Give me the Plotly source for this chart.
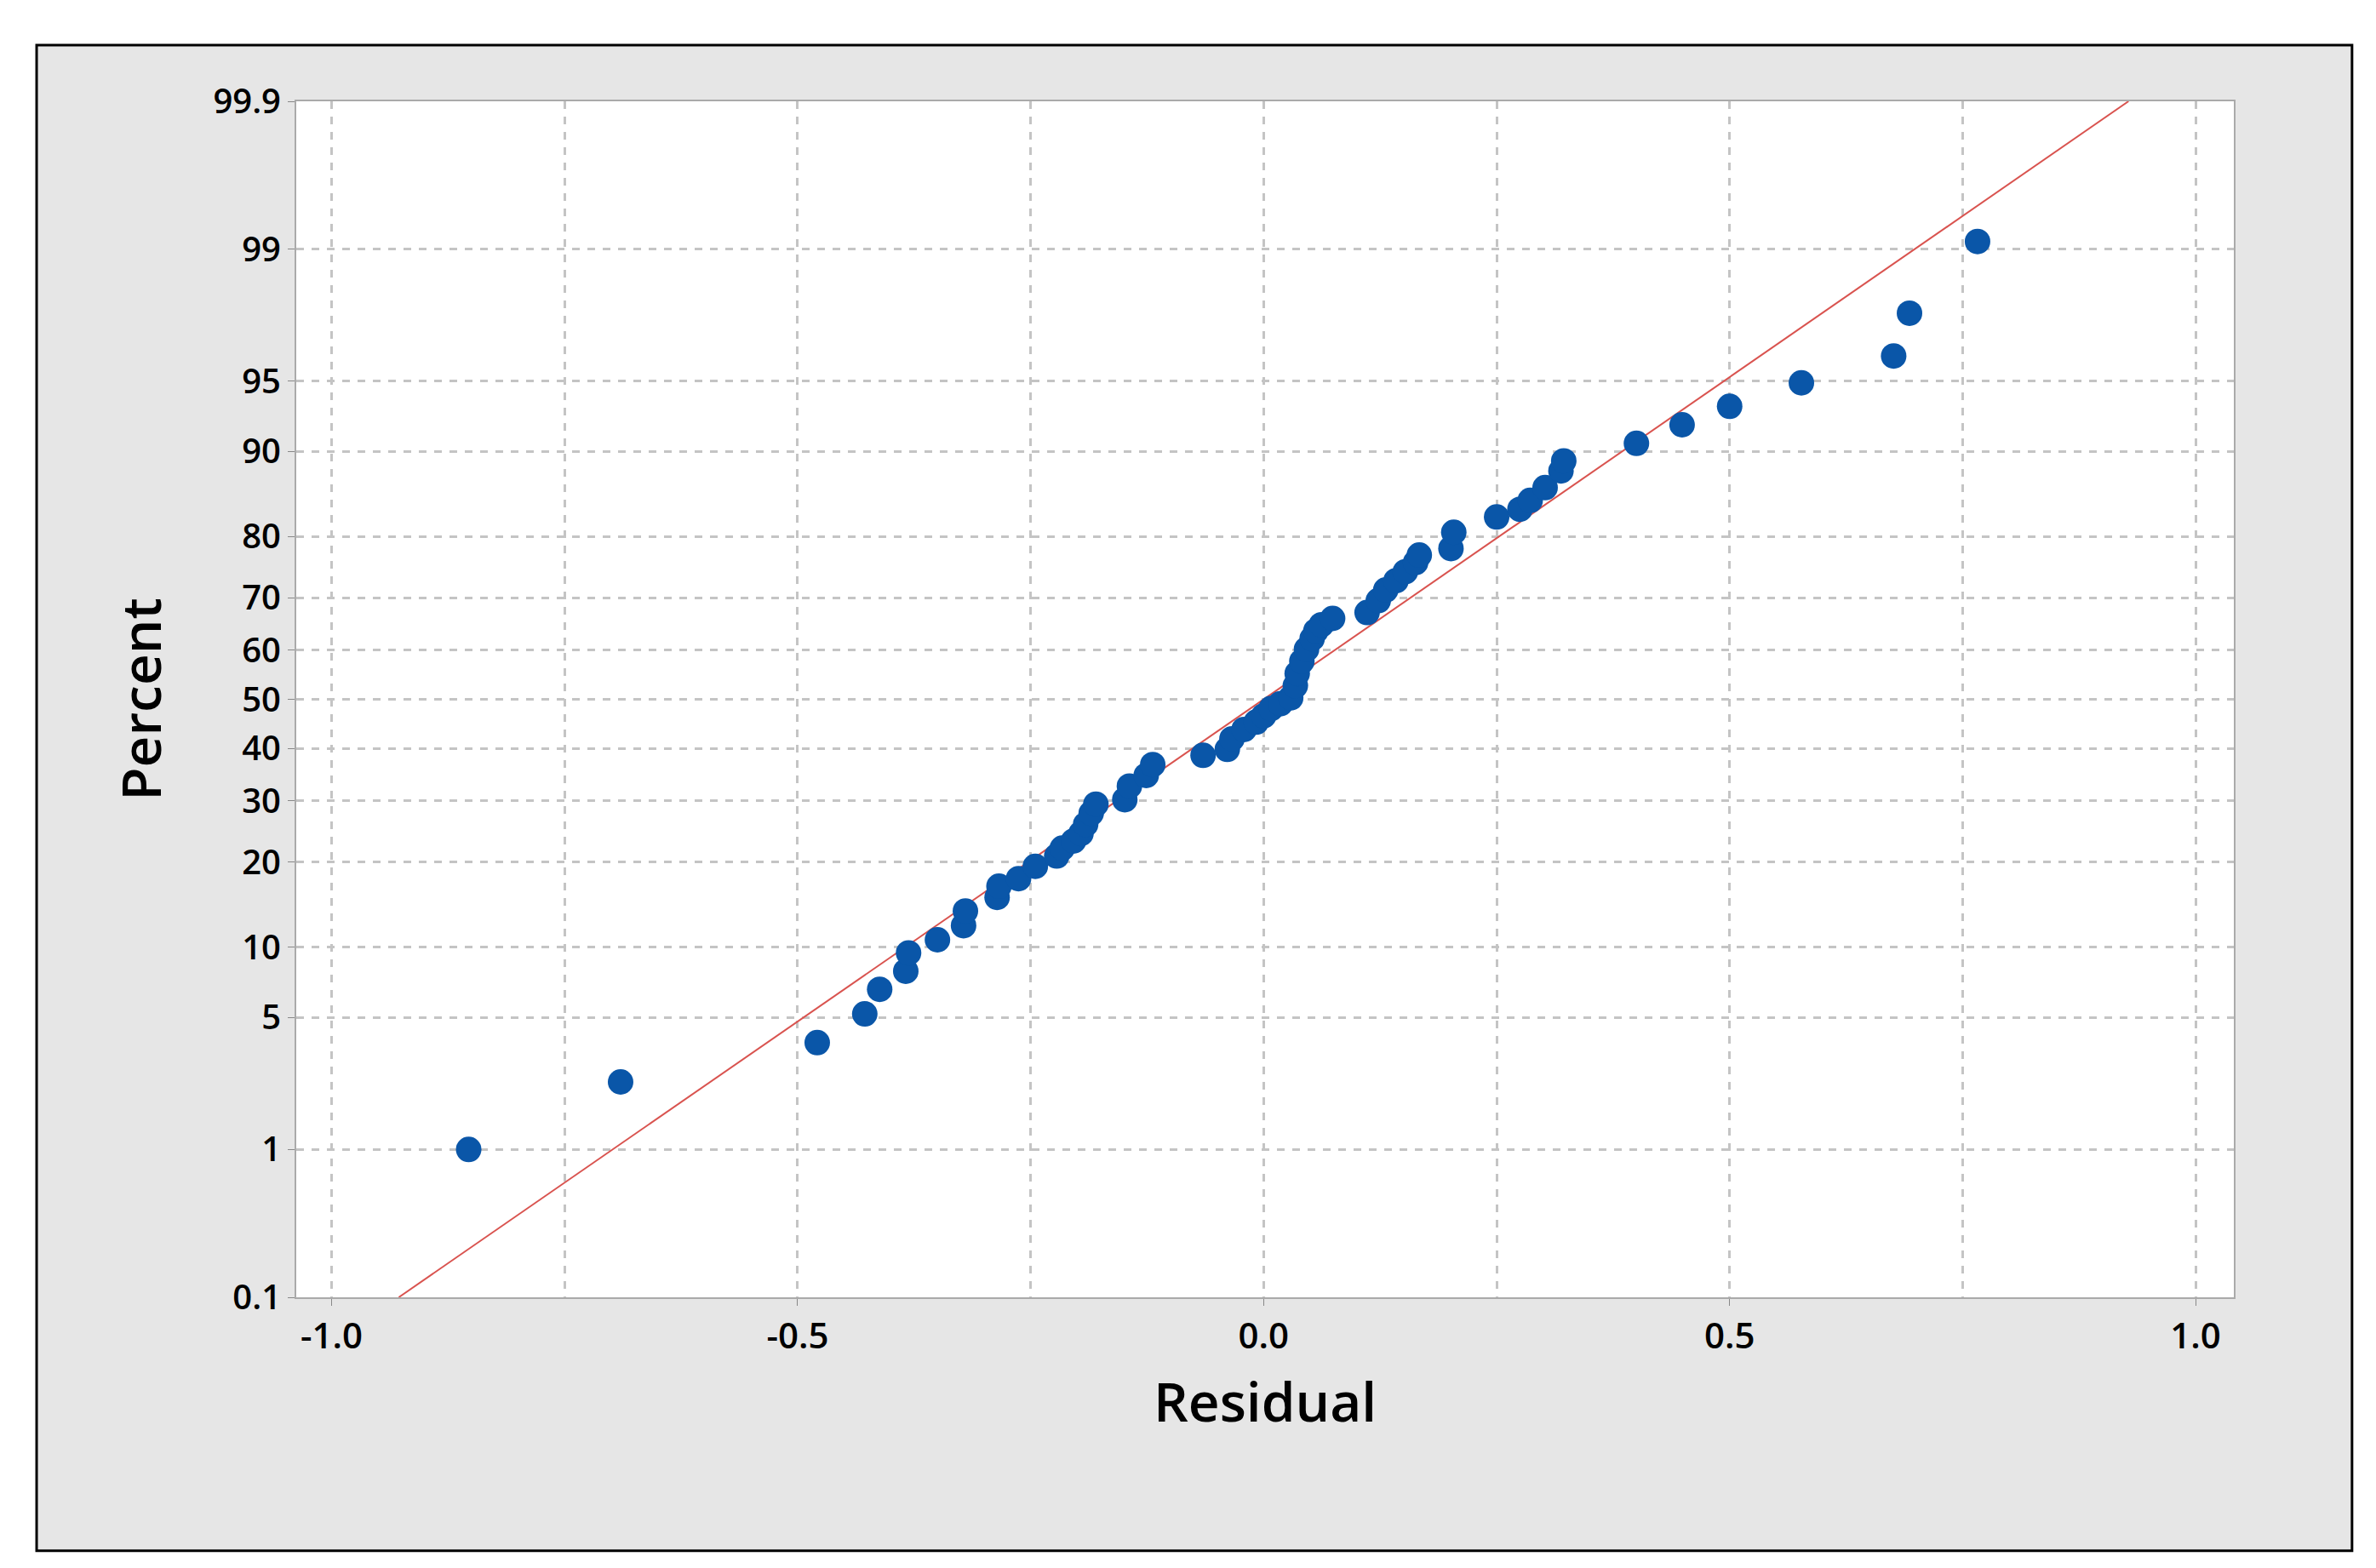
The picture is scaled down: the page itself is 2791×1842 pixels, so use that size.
import plotly.graph_objects as go
from statistics import NormalDist

nd = NormalDist()
def z(p): return nd.inv_cdf(p / 100.0)

residual = [-0.853,-0.690,-0.479,-0.428,-0.412,-0.384,-0.381,-0.350,-0.322,-0.320,-0.286,-0.284,-0.263,-0.245,-0.222,-0.216,-0.204,-0.196,-0.191,-0.185,-0.180,-0.149,-0.144,-0.126,-0.119,-0.065,-0.039,-0.034,-0.021,-0.008,0.000,0.008,0.018,0.029,0.034,0.036,0.041,0.046,0.052,0.056,0.062,0.074,0.111,0.123,0.131,0.142,0.152,0.163,0.167,0.201,0.204,0.250,0.275,0.286,0.302,0.319,0.322,0.400,0.449,0.500,0.577,0.676,0.693,0.766]
percent = [1.0,2.4,3.8,5.2,6.7,8.0,9.5,10.7,12.1,13.7,15.3,16.7,17.7,19.4,20.9,22.1,23.2,24.4,25.9,27.8,29.4,30.2,32.7,34.7,36.8,38.6,39.8,41.9,43.8,45.3,46.6,48.1,49.1,50.3,52.8,55.3,57.8,60.2,62.3,63.8,65.0,66.2,67.3,69.5,71.4,73.0,74.5,76.0,77.2,78.2,80.6,82.7,83.7,84.8,86.3,88.1,89.1,90.7,92.2,93.5,94.9,96.2,97.7,99.1]
fit_residual = [-0.928, 0.928]
fit_percent = [0.1, 99.9]
ytick_vals = [0.1, 1, 5, 10, 20, 30, 40, 50, 60, 70, 80, 90, 95, 99, 99.9]
ytick_text = ["0.1","1","5","10","20","30","40","50","60","70","80","90","95","99","99.9"]

fig = go.Figure()
fig.add_trace(go.Scatter(x=fit_residual, y=[z(p) for p in fit_percent], mode="lines",
                         line=dict(color="#d9534f", width=2), showlegend=False))
fig.add_trace(go.Scatter(x=residual, y=[z(p) for p in percent], mode="markers",
                         marker=dict(color="#0a56a8", size=30), showlegend=False))

font = "Open Sans"
grid = "#c4c4c4"
fig.update_layout(
    width=2791, height=1842, paper_bgcolor="white", plot_bgcolor="white",
    margin=dict(l=340, r=175, t=111, b=326),
    font=dict(family=font, color="black"),
    shapes=[dict(type="rect", xref="paper", yref="paper", x0=-0.134, x1=1.061, y0=-0.212, y1=1.047,
                 fillcolor="#e6e6e6", line=dict(color="black", width=3), layer="below"),
            dict(type="rect", xref="paper", yref="paper", x0=0, x1=1, y0=0, y1=1,
                 fillcolor="white", line=dict(width=0), layer="below")],
)
fig.update_xaxes(range=[-1.038, 1.041], tickvals=[-1.0,-0.5,0.0,0.5,1.0],
                 ticktext=["-1.0","-0.5","0.0","0.5","1.0"], tickfont=dict(size=42, weight=600),
                 showgrid=True, gridcolor=grid, griddash="dash", gridwidth=3,
                 minor=dict(dtick=0.25, tick0=0, showgrid=True, gridcolor=grid, griddash="dash", gridwidth=3),
                 showline=True, mirror=True, linecolor="#aaaaaa", linewidth=2, zeroline=False,
                 ticks="outside", ticklen=8, tickcolor="#888",
                 title=dict(text="Residual", font=dict(size=64, weight=600), standoff=30))
fig.update_yaxes(range=[z(0.1), z(99.9)], tickvals=[z(p) for p in ytick_vals], ticktext=ytick_text,
                 tickfont=dict(size=40, weight=600), showgrid=True, gridcolor=grid, griddash="dash", gridwidth=3,
                 showline=True, mirror=True, linecolor="#aaaaaa", linewidth=2, zeroline=False,
                 ticks="outside", ticklen=8, tickcolor="#888",
                 title=dict(text="Percent", font=dict(size=64, weight=600), standoff=40))
fig.write_html("out.html")
